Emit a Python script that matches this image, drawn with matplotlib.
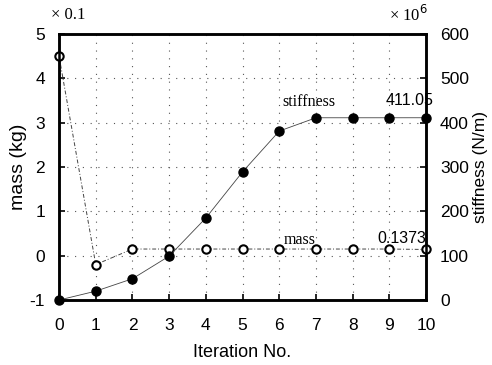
import matplotlib
matplotlib.use("Agg")
import matplotlib.pyplot as plt

iterations = [0, 1, 2, 3, 4, 5, 6, 7, 8, 9, 10]
mass_x01 = [4.5, -0.2, 0.15, 0.15, 0.15, 0.15, 0.15, 0.15, 0.15, 0.15, 0.14]
stiffness_e6 = [0, 20, 48, 99, 185, 289, 381, 411, 411, 411, 411.05]
left_ticks = [-1, 0, 1, 2, 3, 4, 5]
right_ticks = [0, 100, 200, 300, 400, 500, 600]

plt.rcParams['font.family'] = ['Liberation Sans', 'DejaVu Sans']
plt.rcParams['axes.unicode_minus'] = False

fig = plt.figure(figsize=(4.92, 3.65), dpi=100)
ax = fig.add_axes([0.12, 0.178, 0.746, 0.729])
ax2 = ax.twinx()

ax.set_xlim(0, 10)
ax.set_ylim(-1, 5)
ax2.set_ylim(0, 600)
ax.set_xticks(iterations)
ax.set_yticks(left_ticks)
ax2.set_yticks(right_ticks)

ax.grid(True, color='#555555', linestyle=(0, (1, 6)), linewidth=0.8)

ax.plot(iterations, mass_x01, color='#444444', linestyle=(0, (4, 2, 1, 2)), linewidth=0.7,
        marker='o', markersize=6, markerfacecolor='white', markeredgecolor='black',
        markeredgewidth=1.5, clip_on=False, zorder=5)
ax2.plot(iterations, stiffness_e6, color='#444444', linestyle='-', linewidth=0.6,
         marker='o', markersize=6.5, markerfacecolor='black', markeredgecolor='black',
         clip_on=False, zorder=5)

for a in (ax, ax2):
    for s in a.spines.values():
        s.set_linewidth(1.8)
    a.tick_params(direction='in', length=4, width=1.2, labelsize=12.5)
ax.tick_params(axis='x', pad=13)
ax.tick_params(axis='y', pad=10)
ax2.tick_params(axis='y', pad=10)

ax.set_xlabel('Iteration No.', fontsize=13, labelpad=8)
ax.set_ylabel('mass (kg)', fontsize=14, labelpad=2)
ax2.set_ylabel('stiffness (N/m)', fontsize=12.5, labelpad=3)

serif = ['Liberation Serif', 'DejaVu Serif']
fig.text(0.104, 0.96, '× 0.1', fontsize=12, family=serif, ha='left', va='center')
fig.text(0.79, 0.96, '× 10$^6$', fontsize=12, family=serif, ha='left', va='center')

ax2.text(6.8, 447, 'stiffness', fontsize=11.5, family=serif, ha='center', va='center')
ax2.text(9.56, 451, '411.05', fontsize=11.5, ha='center', va='center')
ax.text(6.55, 0.36, 'mass', fontsize=11.5, family=serif, ha='center', va='center')
ax.text(9.35, 0.38, '0.1373', fontsize=11.5, ha='center', va='center')

fig.savefig('out.png', dpi=100)
